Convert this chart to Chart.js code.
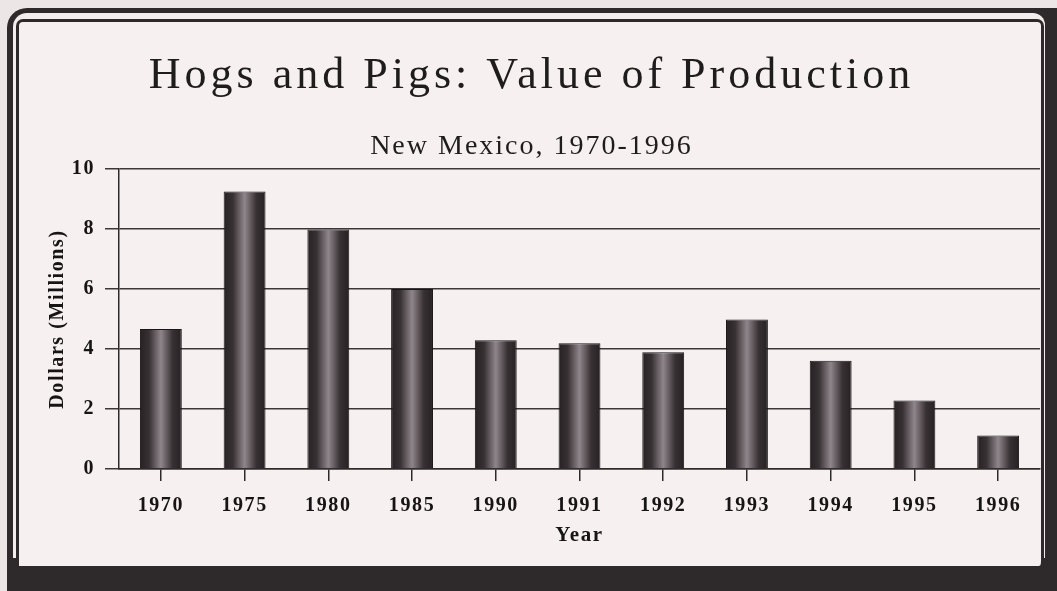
<!DOCTYPE html>
<html>
<head>
<meta charset="utf-8">
<title>Hogs and Pigs: Value of Production</title>
<script src="https://cdn.jsdelivr.net/npm/chart.js@4/dist/chart.umd.min.js"></script>
<style>
  html, body { margin: 0; padding: 0; overflow: hidden; }
  body { width: 1057px; height: 591px; background: #ede6e6; position: relative; }
  .frame-outer {
    position: absolute; left: 7px; top: 8px; width: 1100px; height: 640px;
    background: #2e292b; border-radius: 20px;
  }
  .frame-gap {
    position: absolute; left: 13px; top: 13px; width: 1032px; height: 545px;
    background: #f4eded; border-radius: 14px 12px 0 0;
  }
  .frame-inner {
    position: absolute; left: 16px; top: 19px; width: 1022px; height: 544px;
    background: #f6f0f0; border: 3px solid #2e292b; border-bottom: none;
    border-radius: 7px 7px 5px 0;
  }
  #chart { position: absolute; left: 0; top: 0; }
</style>
</head>
<body>
<div class="frame-outer"></div>
<div class="frame-gap"></div>
<div class="frame-inner"></div>
<canvas id="chart" width="1057" height="591"></canvas>
<script>
const titleText = 'Hogs and Pigs: Value of Production'
const subtitleText = 'New Mexico, 1970-1996'
const years = ['1970', '1975', '1980', '1985', '1990', '1991', '1992', '1993', '1994', '1995', '1996']
const values = [4.67, 9.25, 7.98, 6.0, 4.29, 4.19, 3.89, 4.98, 3.61, 2.28, 1.12]
const yTicks = [0, 2, 4, 6, 8, 10]

const serif = '"Liberation Serif", "Times New Roman", serif'
const ink = '#161415'
const barShare = 0.5

// Spaced-out lettering like the typeset original
const letterSpacing = {
  id: 'letterSpacing',
  beforeDraw(chart) {
    chart.ctx.letterSpacing = '1.6px'
  }
}

// Title and subtitle, drawn with wider tracking
const headings = {
  id: 'headings',
  afterDraw(chart) {
    const ctx = chart.ctx
    const cx = chart.width / 2
    ctx.save()
    ctx.fillStyle = '#1e1c1d'
    ctx.textAlign = 'center'
    ctx.textBaseline = 'alphabetic'
    ctx.letterSpacing = '4px'
    ctx.font = '44px ' + serif
    ctx.fillText(titleText, cx + 3, 88)
    ctx.letterSpacing = '2px'
    ctx.font = '28px ' + serif
    ctx.fillText(subtitleText, cx + 3, 154)
    ctx.restore()
  }
}

// Shaded cylinder look for each bar
function barFill(context) {
  const chart = context.chart
  const x = chart.scales.x
  if (!x || !chart.chartArea) return '#4a4345'
  const cx = x.getPixelForValue(context.dataIndex)
  const half = x.width / years.length * barShare / 2
  const g = chart.ctx.createLinearGradient(cx - half, 0, cx + half, 0)
  g.addColorStop(0, '#262123')
  g.addColorStop(0.22, '#383133')
  g.addColorStop(0.5, '#8f868b')
  g.addColorStop(0.78, '#383133')
  g.addColorStop(1, '#262123')
  return g
}

new Chart(document.getElementById('chart'), {
  type: 'bar',
  data: {
    labels: years,
    datasets: [{
      data: values,
      backgroundColor: barFill,
      borderColor: '#1a1617',
      borderWidth: 1,
      barPercentage: 1,
      categoryPercentage: barShare
    }]
  },
  options: {
    responsive: false,
    animation: false,
    layout: { padding: { top: 169, right: 17, bottom: 0, left: 0 } },
    plugins: {
      legend: { display: false },
      tooltip: { enabled: false }
    },
    scales: {
      x: {
        grid: { offset: false, drawOnChartArea: false, drawTicks: true, tickLength: 12, color: '#2e2a2c', lineWidth: 1.5 },
        border: { color: '#2e2a2c', width: 1.5 },
        ticks: { color: ink, padding: 13, maxRotation: 0, autoSkip: false, font: { family: serif, size: 20, weight: 'bold' } },
        title: { display: true, text: 'Year', color: ink, padding: { top: 0, bottom: 43 }, font: { family: serif, size: 21, weight: 'bold' } },
        afterFit(scale) { scale.height = 122 }
      },
      y: {
        min: 0,
        max: 10,
        afterBuildTicks(scale) { scale.ticks = yTicks.map(v => ({ value: v })) },
        grid: { color: '#3c3739', lineWidth: 1.5, drawTicks: true, tickLength: 14 },
        border: { color: '#2e2a2c', width: 1.5 },
        ticks: { color: ink, padding: 10, font: { family: serif, size: 20, weight: 'bold' } },
        title: { display: true, text: 'Dollars (Millions)', color: ink, padding: { top: 46, bottom: 0 }, font: { family: serif, size: 20, weight: 'bold' } },
        afterFit(scale) { scale.width = 119 }
      }
    }
  },
  plugins: [letterSpacing, headings]
})
</script>
</body>
</html>
